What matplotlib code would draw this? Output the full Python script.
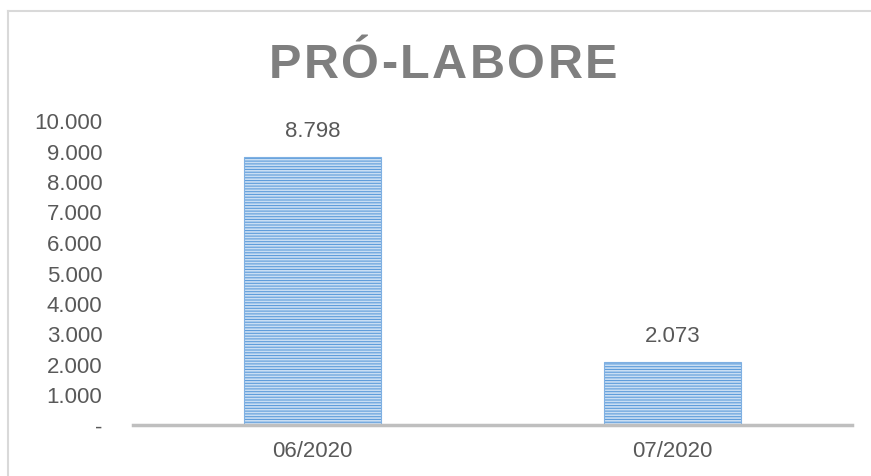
import matplotlib
matplotlib.use('Agg')
import matplotlib.pyplot as plt
from matplotlib.lines import Line2D
from matplotlib.ticker import FuncFormatter

plt.rcParams['font.family'] = ['Liberation Sans', 'DejaVu Sans']
plt.rcParams['hatch.linewidth'] = 1.2

# dados
meses = ['06/2020', '07/2020']
valores = [8798, 2073]
rotulos = ['8.798', '2.073']
titulo = 'PRÓ-LABORE'

cinza_txt = '#595959'

fig = plt.figure(figsize=(8.71, 4.77), dpi=100)
ax = fig.add_axes([133/871, 1 - 426/477, (852-133)/871, (426-121)/477])

x = range(len(meses))
bars = ax.bar(x, valores, width=0.38, color='#5f9ddb', edgecolor='#c9def3',
              hatch='------', linewidth=0)
# contorno leve
ax.bar(x, valores, width=0.38, fill=False, edgecolor='#7fb0e2', linewidth=0.8)

for i, (v, r) in enumerate(zip(valores, rotulos)):
    ax.annotate(r, (i, v), xytext=(0, 11), textcoords='offset points',
                ha='center', va='bottom', fontsize=16, color=cinza_txt)

ax.set_xlim(-0.5, 1.5)
ax.set_ylim(0, 10000)
ax.set_yticks(range(0, 10001, 1000))
ax.yaxis.set_major_formatter(FuncFormatter(
    lambda v, p: '-' if v == 0 else f'{int(v):,}'.replace(',', '.')))
ax.set_xticks(list(x))
ax.set_xticklabels(meses)
ax.tick_params(axis='both', length=0, labelsize=16, labelcolor=cinza_txt)
ax.tick_params(axis='y', pad=22)
ax.tick_params(axis='x', pad=11)
for s in ['top', 'right', 'left']:
    ax.spines[s].set_visible(False)
ax.spines['bottom'].set_color('#bfbfbf')
ax.spines['bottom'].set_linewidth(2.5)

# borda da área do gráfico
fig.add_artist(Line2D([8/871, 8/871], [0, 1 - 12/477], color='#d9d9d9', lw=1.5))
fig.add_artist(Line2D([8/871, 1], [1 - 12/477, 1 - 12/477], color='#d9d9d9', lw=1.5))

# título com espaçamento entre letras
fig.canvas.draw()
r = fig.canvas.get_renderer()
fs = 35
esp = 2.5
larguras = []
for c in titulo:
    t = fig.text(0, 0, c, fontsize=fs, fontweight='bold')
    larguras.append(t.get_window_extent(r).width)
    t.remove()
total = sum(larguras) + esp * (len(titulo) - 1)
x0 = 443 - total / 2
for c, w in zip(titulo, larguras):
    fig.text(x0 / 871, 1 - 78 / 477, c, fontsize=fs, fontweight='bold',
             color='#7f7f7f', ha='left', va='baseline')
    x0 += w + esp

fig.savefig('out.png', dpi=100)
